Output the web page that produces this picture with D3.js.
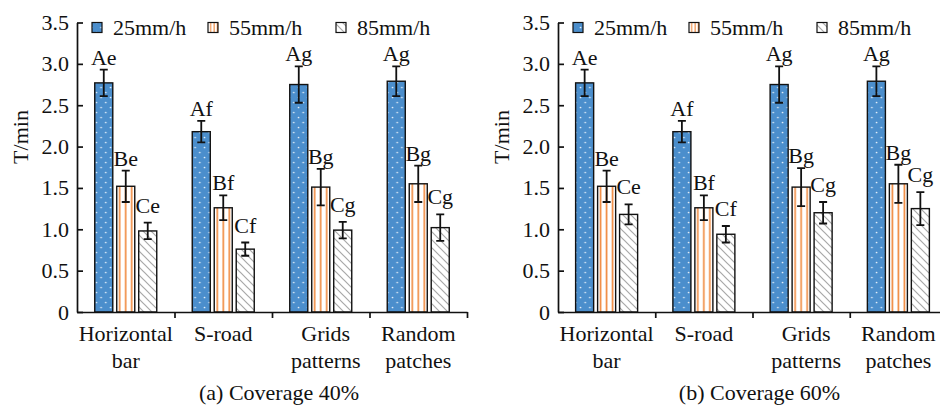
<!DOCTYPE html>
<html>
<head>
<meta charset="utf-8">
<script src="https://cdn.jsdelivr.net/npm/d3@7"></script>
<style>
  body { margin: 0; background: #fff; }
</style>
</head>
<body>
<div id="chart"></div>
<script>
var svgWidth = 940;
var svgHeight = 405;
var serif = "'Liberation Serif', 'Times New Roman', Times, serif";

// data
var categories = [["Horizontal", "bar"], ["S-road"], ["Grids", "patterns"], ["Random", "patches"]];
var seriesNames = ["25mm/h", "55mm/h", "85mm/h"];
var yTicks = [0, 0.5, 1.0, 1.5, 2.0, 2.5, 3.0, 3.5];

// coverage 40%
var c40_25 = [2.77, 2.18, 2.75, 2.79];
var c40_25err = [0.16, 0.13, 0.22, 0.18];
var c40_25lab = ["Ae", "Af", "Ag", "Ag"];
var c40_55 = [1.52, 1.26, 1.51, 1.55];
var c40_55err = [0.19, 0.15, 0.22, 0.22];
var c40_55lab = ["Be", "Bf", "Bg", "Bg"];
var c40_85 = [0.98, 0.76, 0.99, 1.02];
var c40_85err = [0.10, 0.08, 0.10, 0.16];
var c40_85lab = ["Ce", "Cf", "Cg", "Cg"];

// coverage 60%
var c60_25 = [2.77, 2.18, 2.75, 2.79];
var c60_25err = [0.16, 0.13, 0.22, 0.18];
var c60_25lab = ["Ae", "Af", "Ag", "Ag"];
var c60_55 = [1.52, 1.26, 1.51, 1.55];
var c60_55err = [0.19, 0.15, 0.23, 0.23];
var c60_55lab = ["Be", "Bf", "Bg", "Bg"];
var c60_85 = [1.18, 0.94, 1.20, 1.25];
var c60_85err = [0.12, 0.10, 0.13, 0.20];
var c60_85lab = ["Ce", "Cf", "Cg", "Cg"];

var svg = d3.select("#chart")
  .append("svg")
  .attr("width", svgWidth)
  .attr("height", svgHeight)
  .attr("font-family", serif);

// fill patterns
var defs = svg.append("defs");

var pDot = defs.append("pattern")
  .attr("id", "pDot")
  .attr("patternUnits", "userSpaceOnUse")
  .attr("width", 9.4).attr("height", 10);
pDot.append("rect").attr("width", 9.4).attr("height", 10).attr("fill", "#4b8ecc");
pDot.append("circle").attr("cx", 2.4).attr("cy", 2.5).attr("r", 0.85).attr("fill", "#e6f0fa");
pDot.append("circle").attr("cx", 7.1).attr("cy", 7.5).attr("r", 0.85).attr("fill", "#e6f0fa");

// stripes start at each bar's left edge
var pStripe = defs.append("pattern")
  .attr("id", "pStripe")
  .attr("patternUnits", "objectBoundingBox")
  .attr("width", 1 / 3).attr("height", 1);
pStripe.append("rect").attr("width", 20).attr("height", 400).attr("fill", "#fff");
pStripe.append("rect").attr("x", 2.2).attr("width", 1.6).attr("height", 400).attr("fill", "#f0873a");

var pHatch = defs.append("pattern")
  .attr("id", "pHatch")
  .attr("patternUnits", "userSpaceOnUse")
  .attr("width", 8).attr("height", 8);
pHatch.append("rect").attr("width", 8).attr("height", 8).attr("fill", "#fff");
pHatch.append("path")
  .attr("d", "M0,0L8,8M7,-1L9,1M-1,7L1,9")
  .attr("stroke", "#a8a8a8")
  .attr("stroke-width", 1.2);

var fills = ["url(#pDot)", "url(#pStripe)", "url(#pHatch)"];
var labelGap = [5, 5, 10];
var catDx = [0, 0, 5, 0];
var fs = "22px";

var y = d3.scaleLinear()
  .domain([0, 3.5])
  .range([312, 22.5]);

function drawPanel(x0, x1, series, caption) {
  var g = svg.append("g");

  var x = d3.scaleBand()
    .domain(d3.range(categories.length))
    .range([x0, x1])
    .padding(0);

  var cw = x.bandwidth();
  var xs = d3.scaleBand()
    .domain(d3.range(seriesNames.length))
    .range([cw / 2 - 31, cw / 2 + 31])
    .paddingInner(0.18)
    .paddingOuter(0);

  // bars
  series.forEach(function(s, si) {
    var rows = s.values.map(function(v, i) {
      return { i: i, v: v, e: s.err[i], lab: s.lab[i] };
    });
    var sg = g.append("g");

    sg.selectAll("rect")
      .data(rows)
      .enter()
      .append("rect")
      .attr("x", d => x(d.i) + xs(si))
      .attr("y", d => y(d.v))
      .attr("width", xs.bandwidth())
      .attr("height", d => y(0) - y(d.v))
      .attr("fill", fills[si])
      .attr("stroke", "#111")
      .attr("stroke-width", 1.4);

    var cx = d => x(d.i) + xs(si) + xs.bandwidth() / 2;

    sg.selectAll("path.err")
      .data(rows)
      .enter()
      .append("path")
      .attr("class", "err")
      .attr("d", function(d) {
        var c = cx(d), t = y(d.v + d.e), b = y(d.v - d.e);
        return "M" + (c - 4) + "," + t + "H" + (c + 4) +
          "M" + c + "," + t + "V" + b +
          "M" + (c - 4) + "," + b + "H" + (c + 4);
      })
      .attr("fill", "none")
      .attr("stroke", "#111")
      .attr("stroke-width", 1.8);

    sg.selectAll("text")
      .data(rows)
      .enter()
      .append("text")
      .attr("x", cx)
      .attr("y", d => y(d.v + d.e) - labelGap[si])
      .attr("text-anchor", "middle")
      .style("font-family", serif)
      .attr("font-size", fs)
      .attr("fill", "#111")
      .text(d => d.lab);
  });

  // y axis, ticks pointing inward
  var yAxis = d3.axisLeft(y)
    .tickValues(yTicks)
    .tickSizeInner(-6)
    .tickSizeOuter(0)
    .tickPadding(8)
    .tickFormat(d => d === 0 ? "0" : d.toFixed(1));

  var ya = g.append("g")
    .attr("transform", `translate(${x0}, 0)`)
    .call(yAxis)
    .attr("font-family", serif);
  ya.selectAll("text")
    .style("font-family", serif)
    .attr("font-size", fs)
    .attr("fill", "#111");

  // x axis, ticks at category borders
  var xb = d3.scaleLinear().domain([0, categories.length]).range([x0, x1]);
  var xAxis = d3.axisBottom(xb)
    .tickValues(d3.range(1, categories.length + 1))
    .tickSizeInner(6)
    .tickSizeOuter(0)
    .tickFormat("");

  g.append("g")
    .attr("transform", `translate(0, ${y(0)})`)
    .call(xAxis);

  g.selectAll(".domain, .tick line")
    .attr("stroke", "#111")
    .attr("stroke-width", 1.7);

  // category labels
  categories.forEach(function(lines, i) {
    var t = g.append("text")
      .attr("text-anchor", "middle")
      .style("font-family", serif)
      .attr("font-size", fs)
      .attr("fill", "#111");
    lines.forEach(function(l, k) {
      t.append("tspan")
        .attr("x", x(i) + cw / 2 + catDx[i])
        .attr("y", 341 + k * 27)
        .text(l);
    });
  });

  // y label
  g.append("text")
    .attr("transform", `translate(${x0 - 49}, 137) rotate(-90)`)
    .attr("text-anchor", "middle")
    .style("font-family", serif)
    .attr("font-size", fs)
    .attr("fill", "#111")
    .text("T/min");

  // legend
  var legX = [15, 131, 259];
  seriesNames.forEach(function(n, i) {
    g.append("rect")
      .attr("x", x0 + legX[i])
      .attr("y", 22.5)
      .attr("width", 10)
      .attr("height", 10)
      .attr("fill", fills[i])
      .attr("stroke", "#111")
      .attr("stroke-width", 1.2);
    g.append("text")
      .attr("x", x0 + legX[i] + 21)
      .attr("y", 35)
      .style("font-family", serif)
      .attr("font-size", fs)
      .attr("fill", "#111")
      .text(n);
  });

  // caption
  g.append("text")
    .attr("x", (x0 + x1) / 2 + 7)
    .attr("y", 400)
    .attr("text-anchor", "middle")
    .style("font-family", serif)
    .attr("font-size", fs)
    .attr("fill", "#111")
    .text(caption);
}

drawPanel(77, 467, [
  { values: c40_25, err: c40_25err, lab: c40_25lab },
  { values: c40_55, err: c40_55err, lab: c40_55lab },
  { values: c40_85, err: c40_85err, lab: c40_85lab }
], "(a) Coverage 40%");

drawPanel(558, 947, [
  { values: c60_25, err: c60_25err, lab: c60_25lab },
  { values: c60_55, err: c60_55err, lab: c60_55lab },
  { values: c60_85, err: c60_85err, lab: c60_85lab }
], "(b) Coverage 60%");
</script>
</body>
</html>
